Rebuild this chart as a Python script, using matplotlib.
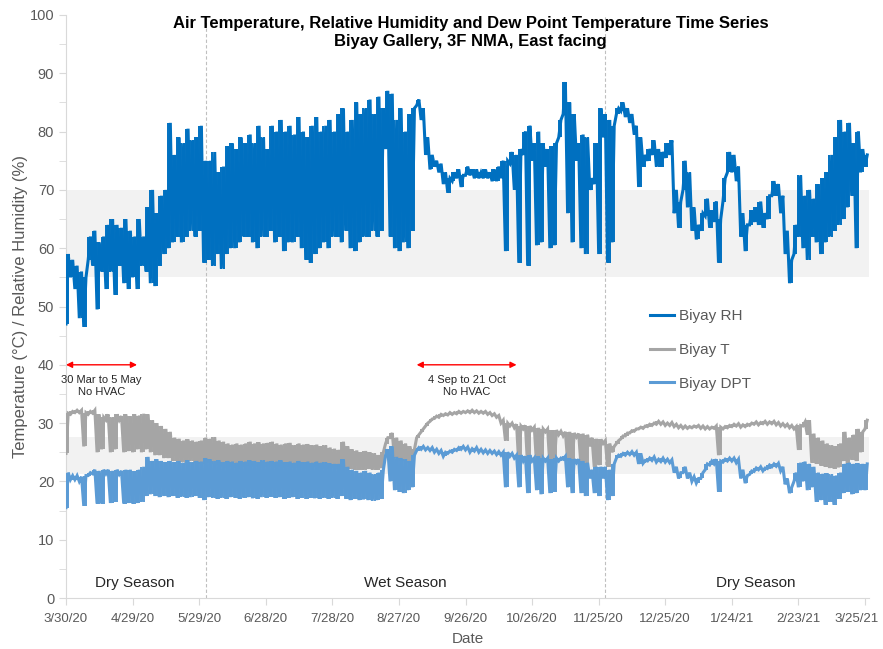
import numpy as np
import pandas as pd
import matplotlib
matplotlib.use('Agg')
import matplotlib.pyplot as plt
from matplotlib.ticker import MultipleLocator
from matplotlib.lines import Line2D
from matplotlib.transforms import ScaledTranslation

# ---------------- data (samples every 2 days; low reading then high reading) ----------------
start_date = '2020-03-30'
sample_step_days = 2

rh_high = [59, 58, 57, 56, 55, 62, 63, 61, 62, 64,
           65, 64, 63.5, 65, 63, 62, 65, 62, 67, 70,
           66, 69, 70, 81.5, 76, 79, 78, 80.5, 78.5, 79,
           81, 75, 75, 76.5, 73, 74, 77.5, 78, 77, 79,
           78, 79.5, 78, 81, 79, 77, 81, 80, 82, 80,
           81, 79.5, 82.5, 80, 79, 81, 82.5, 80, 81, 82,
           80, 83, 84, 80, 82, 85, 83, 84, 85.5, 83,
           86, 84, 87, 86.5, 82, 84, 80, 83, 84, 85.5,
           84, 79, 76, 75, 74.5, 73, 72, 73, 73.5, 72.5,
           74, 73.5, 73.5, 73, 73.5, 73, 73.5, 74, 75, 75,
           76.5, 76, 77, 80, 81, 78, 80, 78, 77, 77.5,
           78, 82, 88.5, 85, 83, 78, 79.5, 79, 72, 78,
           84, 83, 82, 81, 84, 85, 84, 83, 81, 79,
           76, 77, 78.5, 77, 76.5, 78, 78.5, 70, 68, 75,
           73, 67, 64, 66, 68.5, 66.5, 68, 65, 72, 76.5,
           76, 74, 66, 64, 66.5, 67, 68, 66, 69, 71.5,
           71, 69, 63, 58, 64, 72.5, 69, 70, 68.5, 71,
           72, 73, 76, 79, 82, 80, 81.5, 78, 80, 77, 76]
rh_low = [47, 55, 53, 48, 46.5, 58, 57, 49.5, 56, 53,
          56, 52, 57, 54, 53, 55, 53, 57, 56, 54,
          53.5, 57, 59, 60, 61, 62, 61, 62, 63, 62,
          63, 57.5, 58, 57, 59, 56.5, 59, 60, 60, 61,
          62, 62, 61, 60, 62, 62, 63, 61, 62, 59.5,
          61, 61, 62, 60, 58, 57.5, 59, 60, 61, 60,
          62, 62, 61, 63, 60, 59.5, 61, 62, 62, 63,
          62, 63, 77, 62, 60, 59.5, 61, 60, 63, 84.5,
          82, 76, 73.5, 74, 73, 71, 69.5, 71.5, 72, 70.5,
          72.5, 72.5, 72, 72, 72, 72, 71.5, 71.5, 72, 59.5,
          74.5, 70, 57.5, 76, 57, 75, 60.5, 61, 74, 60,
          60.5, 79, 83, 66, 61, 75, 60, 59, 70, 71,
          59, 79, 57.5, 61, 83, 83.5, 82.5, 81.5, 79.5, 70.5,
          74, 75, 76, 74, 74, 75.5, 76, 66, 63.5, 70,
          67, 63, 61.5, 63, 65.5, 63.5, 64.5, 57.5, 68, 73,
          73, 71.5, 62, 59.5, 64, 64.5, 64, 63.5, 65, 69,
          69, 66, 59, 54, 59, 62, 60, 58, 62, 61,
          59, 61, 62, 63, 64, 65, 67, 69, 60, 73, 74]

t_high = [31.7, 32, 32.2, 32.2, 31.8, 32, 32.2, 31.5, 31, 31.5,
          31, 31.5, 31.2, 31.5, 31.2, 31.5, 31.3, 31.6, 31.5, 30.5,
          30, 29.5, 29, 28.5, 27.5, 27.3, 27, 27.2, 27, 26.8,
          27, 27.5, 27.3, 27.6, 27, 26.8, 26.5, 26.3, 26.5, 26.3,
          26.5, 26.8, 26.5, 26.7, 26.5, 26.6, 26.8, 26.5, 26.3, 26.5,
          26.6, 26.2, 26.5, 26.3, 26.4, 26.2, 26.3, 26, 26.2, 25.8,
          25.6, 25.4, 26.8, 26, 25.5, 25.3, 25, 25.2, 25, 24.8,
          24.5, 25, 27.5, 28.3, 27.5, 27, 26.5, 26, 25.5, 28,
          29, 30, 30.7, 31.2, 31.5, 31.6, 31.8, 31.8, 32, 32,
          32.1, 32.2, 32.1, 32, 32, 31.8, 31.6, 31.3, 30.5, 30,
          30, 29.8, 29.5, 29.6, 29.5, 29.3, 29.2, 29, 29, 28.8,
          28.8, 28.6, 28.5, 28.5, 28.3, 28.2, 28.2, 28, 27.5, 27.3,
          27.2, 27, 26.5, 26, 27, 27.8, 28.3, 28.7, 29, 29.3,
          29.5, 29.8, 30, 30.3, 30.2, 30, 30.1, 29.8, 29.6, 29.5,
          29.4, 29.5, 29.6, 29.5, 29.4, 29.3, 29.5, 29.3, 29.4, 29.6,
          29.8, 29.9, 29.7, 29.8, 30, 30.2, 30.1, 30.3, 30.2, 30.3,
          30.1, 29.9, 29.8, 29.6, 29.4, 29.6, 30.2, 30.5, 28.2, 27.5,
          27, 26.5, 26.2, 26, 26.5, 28.5, 27.5, 28, 29, 28.5, 30.5]
t_low = [24.8, 31.5, 31.8, 31.8, 26, 31.5, 31.7, 25, 25.5, 30.5,
         25, 25.5, 30.5, 25, 25.2, 25, 25.5, 25, 25.5, 25,
         24.5, 24.5, 24, 24, 23.5, 23.5, 23.3, 23.2, 23.5, 23.2,
         23, 23, 23.2, 23, 22.8, 22.5, 22.3, 22.5, 22.3, 22.2,
         22.5, 22.7, 22.5, 22.6, 22.4, 22.6, 22.6, 22.4, 22.5, 22.3,
         22.5, 22.3, 22.4, 22.3, 22.2, 22.3, 22.5, 22.3, 22.2, 22.2,
         22.3, 22.2, 22.5, 22.3, 22.2, 22, 22, 22, 22.2, 22,
         22, 22.3, 26.5, 27.5, 24, 23.5, 23.5, 23.2, 23.8, 27.5,
         28.5, 29.5, 30.3, 30.8, 31, 31.3, 31.4, 31.5, 31.6, 31.7,
         31.8, 31.8, 31.8, 31.7, 31.7, 31.5, 31.3, 31, 30, 27,
         29.5, 29.2, 23, 29, 22.5, 28.8, 23, 23, 28.5, 22.8,
         23, 28, 27.8, 23.5, 23, 27.6, 22.8, 22.5, 26, 22.5,
         22.8, 26.5, 22.5, 25, 26.5, 27.3, 27.8, 28.3, 28.6, 29,
         29.1, 29.4, 29.6, 29.8, 29.8, 29.6, 29.6, 29.4, 29.2, 29.1,
         29.1, 29.2, 29.3, 29.1, 29, 29, 29.1, 24.5, 29, 29.2,
         29.4, 29.5, 29.3, 29.4, 29.6, 29.8, 29.7, 29.9, 29.8, 29.9,
         29.7, 29.5, 29.4, 29.2, 29, 25.4, 29.5, 28, 23.2, 23,
         22.7, 22.5, 22.3, 22.2, 22.4, 23.5, 23, 23.7, 23.5, 25, 29]

dpt_high = [21.5, 21, 21, 20.8, 21, 21.5, 22, 21.8, 22, 22,
            21.8, 22, 21.8, 22, 22, 21.7, 22, 22.5, 24.2, 23.5,
            23.8, 23.5, 23.3, 23.5, 23.3, 23.5, 23.2, 23.6, 23.3, 23.5,
            23.4, 24, 23.8, 23.5, 23.6, 23.3, 23.5, 23.4, 23.2, 23.5,
            23.4, 23.6, 23.5, 23.3, 23.6, 23.4, 23.5, 23.4, 23.6, 23.3,
            23.4, 23.2, 23.5, 23.3, 23.4, 23.2, 23.4, 23.2, 23.3, 23.1,
            23, 23, 23.8, 22.5, 22, 21.8, 21.5, 21.8, 21.5, 21.2,
            21.5, 22, 25.5, 26, 24.2, 24, 23.8, 23.5, 24.5, 25.8,
            26, 25.8, 25.8, 25.5, 25.3, 25, 25.2, 25.5, 25.8, 26,
            25.9, 25.6, 25.8, 25.5, 25.4, 25.3, 25.2, 25.1, 25, 25,
            24.8, 24.5, 24.5, 24.3, 24.5, 24, 24.3, 24, 24, 23.8,
            24, 24, 24.3, 24, 23.8, 23.8, 23.5, 23.2, 22, 22.5,
            22.5, 22.5, 22, 23, 24.5, 24.8, 25, 25.1, 25, 24.8,
            23.6, 24, 24.2, 23.8, 24, 23.8, 23.7, 22.5, 21.5, 22.5,
            21.5, 20.8, 20.5, 21.5, 23, 23.5, 23.8, 23.5, 23.8, 24,
            24, 23.8, 22, 21, 21.8, 22.3, 22.5, 22.3, 22.8, 23,
            23.1, 22.5, 20.5, 19, 21.5, 23.2, 23.4, 23, 22.5, 21.5,
            21.3, 21.4, 21.2, 21, 21.5, 23, 23.2, 23, 23.1, 23, 23]
dpt_low = [15.5, 20.3, 20.3, 20, 15.8, 21, 21.3, 16.2, 16.2, 21.3,
           16.3, 16.5, 21.2, 16.2, 16.3, 16.2, 16.3, 16.5, 17.5, 17.8,
           17.5, 17.3, 17.5, 17.3, 17.5, 17.2, 17.4, 17.2, 17.3, 17.5,
           17.2, 16.8, 17.3, 17.2, 17, 17.2, 17, 17.3, 17.2, 17,
           17.2, 17.3, 17.1, 17, 17.3, 17.2, 17.4, 17.2, 17.3, 17,
           17.2, 17.3, 17, 17.2, 17, 17.2, 17.1, 17, 17.2, 17,
           17.2, 17, 17.5, 17, 16.8, 17, 16.8, 16.9, 16.8, 16.7,
           16.8, 17, 24.5, 20, 18.5, 18.2, 18, 18.5, 19, 25.3,
           25.5, 25.4, 25.3, 25, 24.8, 24.3, 24.8, 25, 25.3, 25.5,
           25.4, 25, 25.2, 25, 24.9, 24.8, 24.8, 24.6, 24.5, 19,
           24.3, 24, 19, 23.5, 18, 23.5, 18.5, 17.8, 23.5, 18,
           18.2, 23.5, 23.8, 19, 18, 23.2, 18, 17.5, 20.5, 18,
           17.5, 20.5, 16.8, 17.5, 24, 24.3, 24.5, 24.6, 24.5, 23,
           23.1, 23.5, 23.6, 23.3, 23.4, 23.3, 23.2, 21.5, 20.5, 21.5,
           20.5, 20, 19.7, 20.5, 22, 22.8, 23, 18.2, 23.3, 23.5,
           23.5, 23.2, 20.5, 19.7, 21.2, 21.7, 22, 21.8, 22.2, 22.5,
           22.6, 21.8, 19.5, 18, 20, 19, 20, 18.5, 19, 16.5,
           16.8, 16, 16.5, 16, 17, 18, 18.2, 17.8, 18, 18.5, 18.5]

tick_labels = ['3/30/20', '4/29/20', '5/29/20', '6/28/20', '7/28/20', '8/27/20',
               '9/26/20', '10/26/20', '11/25/20', '12/25/20', '1/24/21', '2/23/21', '3/25/21']
tick_step_days = 30
season_bounds = ['2020-06-01', '2020-11-28']
season_labels = ['Dry Season', 'Wet Season', 'Dry Season']
season_label_dates = ['2020-04-30', '2020-08-30', '2021-02-04']
no_hvac_periods = [('2020-03-30', '2020-05-01'), ('2020-09-04', '2020-10-19')]
no_hvac_texts = ['30 Mar to 5 May\nNo HVAC', '4 Sep to 21 Oct\nNo HVAC']
rh_band = (55, 70)
t_band = (21.2, 27.6)
series_names = ['Biyay RH', 'Biyay T', 'Biyay DPT']

# ---------------- styling ----------------
plt.rcParams['font.family'] = ['Liberation Sans', 'DejaVu Sans']
C_RH, C_T, C_DPT = '#0070C0', '#A5A5A5', '#5B9BD5'
C_TXT = '#595959'

start = pd.Timestamp(start_date)


def zigzag(lo, hi):
    n = len(lo)
    d = np.arange(n) * sample_step_days
    x = np.empty(2 * n)
    y = np.empty(2 * n)
    x[0::2] = d
    x[1::2] = d + 1
    y[0::2] = lo
    y[1::2] = hi
    return start + pd.to_timedelta(x, unit='D'), y


def draw_series(ax, lo, hi, color, z):
    x, y = zigzag(lo, hi)
    ax.plot(x, y, color=color, lw=2.2, zorder=z, solid_joinstyle='miter')
    # the sub-daily swing of each sample drawn as vertical strokes across its slot
    ax.vlines(x[0::2], lo, hi, color=color, lw=1.4, zorder=z)
    ax.vlines(x[1::2], lo, hi, color=color, lw=1.4, zorder=z)


fig = plt.figure(figsize=(8.83, 6.49), dpi=100)
ax = fig.add_axes([66 / 883, 51 / 649, (865 - 66) * 362 / 360 / 883, (598 - 15) / 649])

ax.axhspan(*rh_band, color='#F2F2F2', zorder=0, lw=0)
ax.axhspan(*t_band, color='#F2F2F2', zorder=0, lw=0)

for b in season_bounds:
    ax.axvline(pd.Timestamp(b), color='#BFBFBF', ls=(0, (3, 2)), lw=0.8, zorder=1)

draw_series(ax, rh_low, rh_high, C_RH, 3)
draw_series(ax, t_low, t_high, C_T, 3)
draw_series(ax, dpt_low, dpt_high, C_DPT, 4)

ax.set_ylim(0, 100)
ax.set_xlim(start, start + pd.Timedelta(days=362))
ax.yaxis.set_major_locator(MultipleLocator(10))
ax.yaxis.set_minor_locator(MultipleLocator(5))
ticks = [start + pd.Timedelta(days=tick_step_days * k) for k in range(len(tick_labels))]
ax.set_xticks(ticks)
ax.set_xticklabels(tick_labels)

for s in ['top', 'right']:
    ax.spines[s].set_visible(False)
for s in ['left', 'bottom']:
    ax.spines[s].set_color('#D9D9D9')
    ax.spines[s].set_linewidth(0.8)
ax.tick_params(axis='both', which='both', color='#D9D9D9', labelcolor=C_TXT)
ax.tick_params(axis='y', which='both', length=5, labelsize=10.5)
ax.tick_params(axis='x', length=5, pad=6, labelsize=9.5)

last = ax.get_xticklabels()[-1]
last.set_ha('right')
last.set_transform(last.get_transform() + ScaledTranslation(14 / 100, 0, fig.dpi_scale_trans))

ax.set_ylabel('Temperature (\u00b0C) / Relative Humidity (%)', color=C_TXT, fontsize=12, labelpad=1)
ax.set_xlabel('Date', color=C_TXT, fontsize=11, labelpad=5)

fig.text(0.533, 0.975,
         'Air Temperature, Relative Humidity and Dew Point Temperature Time Series\nBiyay Gallery, 3F NMA, East facing',
         ha='center', va='top', fontsize=12, fontweight='bold', linespacing=1.25)

for (a, b), t in zip(no_hvac_periods, no_hvac_texts):
    pa, pb = pd.Timestamp(a), pd.Timestamp(b)
    ax.annotate('', xy=(pb, 40), xytext=(pa, 40),
                arrowprops=dict(arrowstyle='<|-|>', color='#FF0000', lw=1.0,
                                mutation_scale=9, shrinkA=0, shrinkB=0))
    ax.text(pa + (pb - pa) / 2, 38.3, t, ha='center', va='top', fontsize=8,
            color='#262626', linespacing=1.25)

for d, t in zip(season_label_dates, season_labels):
    ax.text(pd.Timestamp(d), 2.6, t, ha='center', va='center', fontsize=11, color='#262626')

handles = [Line2D([], [], color=c, lw=2.2) for c in (C_RH, C_T, C_DPT)]
leg = fig.legend(handles, series_names, loc='upper left', bbox_to_anchor=(650 / 883, 1 - 309 / 649),
                 frameon=False, fontsize=11, labelspacing=1.3, handlelength=1.6,
                 handletextpad=0.3, borderpad=0, borderaxespad=0)
for t in leg.get_texts():
    t.set_color(C_TXT)

fig.savefig('out.png', dpi=100)
